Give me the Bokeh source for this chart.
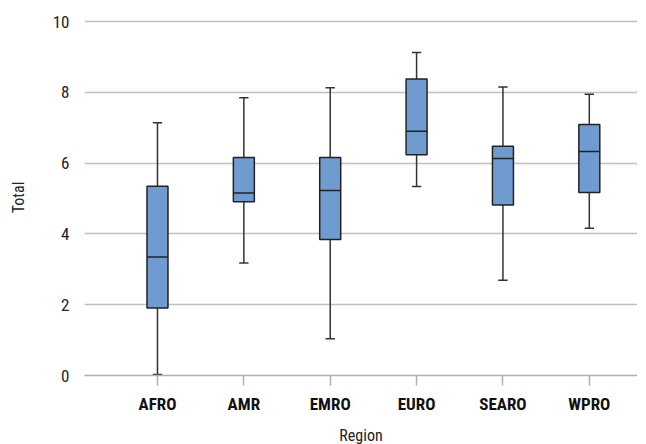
from bokeh.plotting import figure
from bokeh.models import Range1d, FixedTicker, ColumnDataSource
from bokeh.embed import file_html
from bokeh.resources import INLINE

regions = ["AFRO", "AMR", "EMRO", "EURO", "SEARO", "WPRO"]
whisker_low = [0.03, 3.18, 1.04, 5.34, 2.69, 4.16]
q1 = [1.91, 4.91, 3.84, 6.24, 4.82, 5.17]
median = [3.35, 5.16, 5.23, 6.90, 6.13, 6.33]
q3 = [5.35, 6.16, 6.16, 8.38, 6.48, 7.09]
whisker_high = [7.14, 7.85, 8.13, 9.13, 8.15, 7.95]
y_ticks = [0, 2, 4, 6, 8, 10]

FONT = "Roboto Condensed, Roboto"

xs = list(range(len(regions)))
box_w = 0.243
cap_w = 0.108

src = ColumnDataSource(dict(
    x=xs, lo=whisker_low, q1=q1, med=median, q3=q3, hi=whisker_high,
    cl=[x - cap_w / 2 for x in xs], cr=[x + cap_w / 2 for x in xs],
    ml=[x - box_w / 2 for x in xs], mr=[x + box_w / 2 for x in xs],
))

p = figure(frame_width=553, frame_height=356, output_backend="svg", toolbar_location=None,
           x_range=Range1d(-0.845, 5.558), y_range=Range1d(0, 10.06),
           min_border_left=0, min_border_right=0, min_border_top=19,
           min_border_bottom=0, margin=(0, 0, 0, 5))
p.outline_line_color = None
p.background_fill_color = "white"

# whiskers
p.segment(x0="x", y0="lo", x1="x", y1="q1", source=src, line_color="#333333", line_width=1.5)
p.segment(x0="x", y0="q3", x1="x", y1="hi", source=src, line_color="#333333", line_width=1.5)
p.segment(x0="cl", y0="lo", x1="cr", y1="lo", source=src, line_color="#333333", line_width=1.5)
p.segment(x0="cl", y0="hi", x1="cr", y1="hi", source=src, line_color="#333333", line_width=1.5)
# boxes
p.vbar(x="x", width=box_w, bottom="q1", top="q3", source=src,
       fill_color="#6f9bd0", line_color="#222222", line_width=1.5)
p.segment(x0="ml", y0="med", x1="mr", y1="med", source=src, line_color="#222222", line_width=1.5)

# grids
p.xgrid.grid_line_color = None
p.ygrid.grid_line_color = "#c0c0c0"
p.ygrid.grid_line_width = 1.5
p.ygrid.ticker = FixedTicker(ticks=y_ticks)

# y axis
p.yaxis.ticker = FixedTicker(ticks=y_ticks)
p.yaxis.axis_line_color = None
p.yaxis.major_tick_line_color = None
p.yaxis.minor_tick_line_color = None
p.yaxis.major_label_standoff = 9
p.yaxis.major_label_text_font = FONT
p.yaxis.major_label_text_font_size = "17px"
p.yaxis.major_label_text_color = "#222222"
p.yaxis.axis_label = "Total"
p.yaxis.axis_label_text_font = FONT
p.yaxis.axis_label_text_font_size = "16px"
p.yaxis.axis_label_text_font_style = "normal"
p.yaxis.axis_label_text_color = "#222222"
p.yaxis.axis_label_standoff = 22

# x axis
p.xaxis.ticker = FixedTicker(ticks=xs)
p.xaxis.major_label_overrides = {i: r for i, r in enumerate(regions)}
p.xaxis.axis_line_color = "#b0b0b0"
p.xaxis.axis_line_width = 1.5
p.xaxis.major_tick_line_color = "#b0b0b0"
p.xaxis.major_tick_line_width = 1.5
p.xaxis.major_tick_in = 0
p.xaxis.major_tick_out = 10
p.xaxis.minor_tick_line_color = None
p.xaxis.major_label_standoff = 8
p.xaxis.major_label_text_font = FONT
p.xaxis.major_label_text_font_size = "17px"
p.xaxis.major_label_text_font_style = "bold"
p.xaxis.major_label_text_color = "#111111"
p.xaxis.axis_label = "Region"
p.xaxis.axis_label_text_font = FONT
p.xaxis.axis_label_text_font_size = "16px"
p.xaxis.axis_label_text_font_style = "normal"
p.xaxis.axis_label_text_color = "#222222"
p.xaxis.axis_label_standoff = 9

open("out.html", "w").write(file_html(p, INLINE))
